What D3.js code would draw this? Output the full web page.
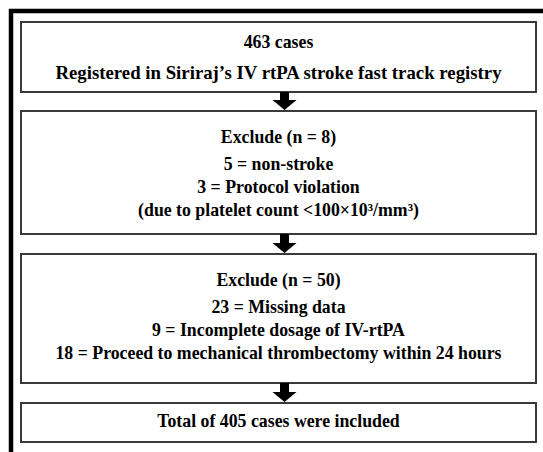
<!DOCTYPE html>
<html><head><meta charset="utf-8">
<script src="https://cdn.jsdelivr.net/npm/d3@7"></script>
<style>html,body{margin:0;padding:0;background:#fff;}svg{display:block;}</style>
</head><body>
<script>
// Flowchart content
const boxTitles = ["463 cases", "Exclude (n = 8)", "Exclude (n = 50)", "Total of 405 cases were included"];
const boxLines = [
  ["Registered in Siriraj\u2019s IV rtPA stroke fast track registry"],
  ["5 = non-stroke", "3 = Protocol violation", "(due to platelet count <100\u00d710\u00b3/mm\u00b3)"],
  ["23 = Missing data", "9 = Incomplete dosage of IV-rtPA", "18 = Proceed to mechanical thrombectomy within 24 hours"],
  []
];
// vertical extents of boxes (in flow units = pixels)
const boxTop = [22, 111, 254, 403];
const boxBottom = [92, 234, 383, 442];

const W = 543, H = 452;
const svg = d3.select("body").append("svg").attr("width", W).attr("height", H);
const x = d3.scaleLinear().domain([0, 1]).range([21, 536]);
const y = d3.scaleLinear().domain([0, H]).range([0, H]);

// outer frame (top & left thick edges)
svg.append("path")
  .attr("d", `M${W + 5},11 H11 V${H + 5}`)
  .attr("fill", "none").attr("stroke", "#000").attr("stroke-width", 4.5);

const font = "'Liberation Serif', 'Times New Roman', serif";

boxTitles.forEach((t, i) => {
  const g = svg.append("g");
  g.append("rect")
    .attr("x", x(0)).attr("y", y(boxTop[i]))
    .attr("width", x(1) - x(0)).attr("height", y(boxBottom[i]) - y(boxTop[i]))
    .attr("fill", "#fff").attr("stroke", "#3a3a3a").attr("stroke-width", 2);
  const cx = (x(0) + x(1)) / 2;
  let ty;
  if (i === 0) ty = [42, 72];
  else if (i === 3) ty = [421];
  else ty = [boxTop[i] + 26];
  if (i === 1 || i === 2) {
    const start = boxTop[i] + 53;
    boxLines[i].forEach((l, j) => ty.push(start + j * 23));
  }
  const lines = [t].concat(boxLines[i]);
  lines.forEach((l, j) => {
    const fs = (i === 0 && j === 1) ? 18.8 : 17.8;
    g.append("text")
      .attr("x", cx).attr("y", y(ty[j]))
      .attr("text-anchor", "middle").attr("dominant-baseline", "central")
      .attr("font-family", font).attr("font-weight", "bold").attr("font-size", fs)
      .attr("fill", "#000").text(l);
  });
});

// arrows between boxes
const ax = 284.5;
for (let i = 0; i < boxTitles.length - 1; i++) {
  const y0 = y(boxBottom[i]), y1 = y(boxTop[i + 1]) - 1;
  const headH = 10, shaftW = 4.5, headW = 12;
  const yh = y1 - headH;
  svg.append("path")
    .attr("d", `M${ax - shaftW},${y0} H${ax + shaftW} V${yh} H${ax + headW} L${ax},${y1} L${ax - headW},${yh} H${ax - shaftW} Z`)
    .attr("fill", "#000");
}
</script>
</body></html>
